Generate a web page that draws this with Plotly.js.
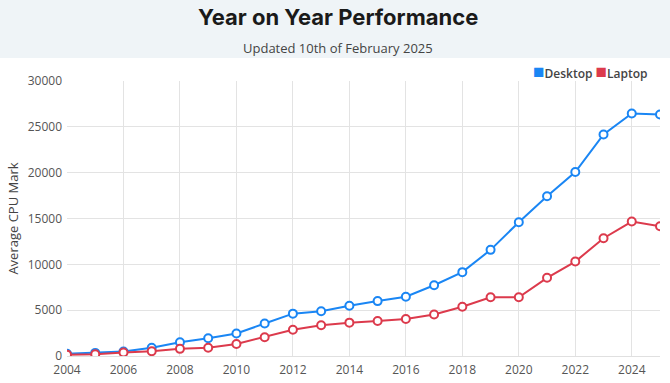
<!DOCTYPE html>
<html>
<head>
<meta charset="utf-8">
<script src="https://cdn.plot.ly/plotly-3.0.1.min.js"></script>
<style>html,body{margin:0;padding:0;background:#fff;}#chart{width:670px;height:383px;}</style>
</head>
<body>
<div id="chart"></div>
<script>
const years = [2004,2005,2006,2007,2008,2009,2010,2011,2012,2013,2014,2015,2016,2017,2018,2019,2020,2021,2022,2023,2024,2025];
const desktop = [250,340,480,890,1490,1940,2460,3540,4620,4880,5480,5990,6470,7720,9150,11580,14600,17430,20070,24170,26450,26340];
const laptop = [150,190,370,520,780,900,1310,2050,2870,3360,3640,3820,4040,4520,5370,6400,6400,8530,10300,12850,14670,14160];
const seriesNames = ['Desktop','Laptop'];
const colors = ['#1a86f4','#dc3a4c'];
const titleText = 'Year on Year Performance';
const subtitleText = 'Updated 10th of February 2025';
const yTitle = 'Average CPU Mark';

function lineTrace(y, i){
  return {x: years, y: y, type:'scatter', mode:'lines+markers', name: seriesNames[i], showlegend:false,
    line:{color:colors[i], width:2},
    marker:{symbol:'circle', size:8, color:'#ffffff', line:{color:colors[i], width:2}},
    hoverinfo:'x+y'};
}
const data = [lineTrace(desktop,0), lineTrace(laptop,1)];

const legendText = seriesNames.map((n,i)=>'<span style="color:'+colors[i]+';font-size:19px">■</span>'+n).join(' ');

const layout = {
  width:670, height:383,
  margin:{l:67, r:10, t:81, b:27, pad:0},
  paper_bgcolor:'#ffffff', plot_bgcolor:'#ffffff',
  font:{family:'Open Sans, sans-serif', color:'#555', size:12},
  showlegend:false,
  xaxis:{range:[2004,2025], tickmode:'linear', tick0:2004, dtick:2, showgrid:true, gridcolor:'#e3e3e3',
    zeroline:false, showline:true, linecolor:'#e0e0e0', ticks:'', ticklabelstandoff:3, tickfont:{size:12, color:'#555'}, fixedrange:true},
  yaxis:{range:[0,30000], tickmode:'linear', tick0:0, dtick:5000, tickformat:'d', showgrid:true, gridcolor:'#e3e3e3',
    zeroline:false, ticks:'', ticklabelstandoff:4, tickfont:{size:12, color:'#555'}, fixedrange:true,
    title:{text:yTitle, font:{size:13, color:'#444'}, standoff:6}},
  shapes:[{type:'rect', xref:'paper', yref:'paper', x0:-0.2, x1:1.1, y0:(356-58)/275, y1:(356)/275,
    fillcolor:'#eff4f7', line:{width:0}, layer:'below'}],
  annotations:[
    {text:titleText, xref:'paper', yref:'paper', x:(338-67)/593, y:(356-17)/275, xanchor:'center', yanchor:'middle',
      showarrow:false, font:{family:'Inter, Lato, sans-serif', size:22, color:'#1a1a1a', weight:700}},
    {text:subtitleText, xref:'paper', yref:'paper', x:(338-67)/593, y:(356-48)/275, xanchor:'center', yanchor:'middle',
      showarrow:false, font:{family:'Open Sans, sans-serif', size:13, color:'#444'}},
    {text:legendText, xref:'paper', yref:'paper', x:(650-67)/593, y:(356-71)/275, xanchor:'right', yanchor:'middle',
      showarrow:false, font:{family:'Open Sans, sans-serif', size:12, color:'#444', weight:600}}
  ]
};
Plotly.newPlot('chart', data, layout, {displayModeBar:false, staticPlot:true});
</script>
</body>
</html>
